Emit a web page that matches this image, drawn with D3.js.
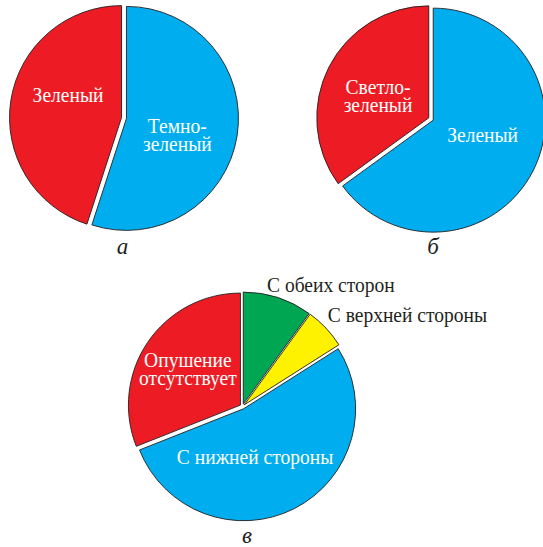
<!DOCTYPE html>
<html>
<head>
<meta charset="utf-8">
<script src="https://cdn.jsdelivr.net/npm/d3@7"></script>
<style>
  body { margin: 0; background: #fff; }
  svg { display: block; }
</style>
</head>
<body>
<svg id="fig" width="543" height="547"></svg>
<script>
// ---- data -------------------------------------------------------------
// а: окраска листа
const categoriesA = ["Темно-зеленый", "Зеленый"];
const valuesA = [55, 45];
const labelLinesA = [["Темно-", "зеленый"], ["Зеленый"]];

// б: окраска листа
const categoriesB = ["Зеленый", "Светло-зеленый"];
const valuesB = [65, 35];
const labelLinesB = [["Зеленый"], ["Светло-", "зеленый"]];

// в: опушение листа
const categoriesC = ["С обеих сторон", "С верхней стороны", "С нижней стороны", "Опушение отсутствует"];
const valuesC = [10, 6, 53, 31];
const labelLinesC = [["С обеих сторон"], ["С верхней стороны"], ["С нижней стороны"], ["Опушение", "отсутствует"]];

const panelLetters = ["а", "б", "в"];

// ---- styling ----------------------------------------------------------
const RED = "#ED1C24", BLUE = "#00AEEF", GREEN = "#00A651", YELLOW = "#FFF200";
const FONT = "'Liberation Serif', 'Times New Roman', serif";
const RADIUS = 112;
const EXPLODE = 2.5;
const LINE_H = 18;
const FONT_SIZE = 21;
const X_SCALE = 0.93; // slightly condensed face

// panel layout: centre, slice colours, label placement (angle in degrees clockwise from top, distance from centre)
const panels = [
  {
    cx: 124, cy: 118, cats: categoriesA, values: valuesA, lines: labelLinesA,
    colors: [BLUE, RED],
    labelPos: [{a: 107.8, r: 56, anchor: "middle", fill: "#fff"},
               {a: 292.3, r: 60.5, anchor: "middle", fill: "#fff"}],
    letter: panelLetters[0], letterDx: -1.5, letterY: 254
  },
  {
    cx: 431, cy: 119, cats: categoriesB, values: valuesB, lines: labelLinesB,
    colors: [BLUE, RED],
    labelPos: [{a: 107, r: 54, anchor: "middle", fill: "#fff"},
               {a: 294, r: 58, anchor: "middle", fill: "#fff"}],
    letter: panelLetters[1], letterDx: 2, letterY: 254
  },
  {
    cx: 242.5, cy: 406.5, cats: categoriesC, values: valuesC, lines: labelLinesC,
    colors: [GREEN, YELLOW, BLUE, RED],
    labelPos: [{a: 11.4, r: 124, anchor: "start", fill: "#231F20"},
               {a: 43, r: 125, anchor: "start", fill: "#231F20"},
               {a: 166, r: 52, anchor: "middle", fill: "#fff"},
               {a: 305, r: 66.7, anchor: "middle", fill: "#fff"}],
    letter: panelLetters[2], letterDx: 4.5, letterY: 543
  }
];

const svg = d3.select("#fig");
const pie = d3.pie().sort(null).value(d => d.value);
const arc = d3.arc().innerRadius(0).outerRadius(RADIUS);
const rad = deg => deg * Math.PI / 180;

panels.forEach(p => {
  const rows = p.cats.map((c, i) => ({cat: c, value: p.values[i], lines: p.lines[i], color: p.colors[i], pos: p.labelPos[i]}));
  const g = svg.append("g").attr("transform", `translate(${p.cx},${p.cy})`);

  // slices, each pulled out a little along its bisector
  g.selectAll("path.slice")
    .data(pie(rows))
    .join("path")
    .attr("class", "slice")
    .attr("d", arc)
    .attr("fill", d => d.data.color)
    .attr("stroke", "#231F20")
    .attr("stroke-width", 0.9)
    .attr("stroke-linejoin", "miter")
    .attr("transform", d => {
      const mid = (d.startAngle + d.endAngle) / 2;
      return `translate(${Math.sin(mid) * EXPLODE},${-Math.cos(mid) * EXPLODE})`;
    });

  // category labels
  const labels = g.selectAll("text.lbl")
    .data(rows)
    .join("text")
    .attr("class", "lbl")
    .attr("font-family", FONT)
    .attr("font-size", FONT_SIZE)
    .attr("fill", d => d.pos.fill)
    .attr("text-anchor", d => d.pos.anchor)
    .attr("transform", d =>
      `translate(${Math.sin(rad(d.pos.a)) * d.pos.r},${-Math.cos(rad(d.pos.a)) * d.pos.r}) scale(${X_SCALE},1)`);

  labels.selectAll("tspan")
    .data(d => d.lines.map((t, i) => ({t, i, n: d.lines.length})))
    .join("tspan")
    .attr("x", 0)
    .attr("y", d => (d.i - (d.n - 1) / 2) * LINE_H)
    .attr("dy", "0.35em")
    .text(d => d.t);

  // panel letter
  svg.append("text")
    .attr("x", p.cx + p.letterDx)
    .attr("y", p.letterY)
    .attr("text-anchor", "middle")
    .attr("font-family", FONT)
    .attr("font-style", "italic")
    .attr("font-size", 23)
    .attr("fill", "#231F20")
    .text(p.letter);
});
</script>
</body>
</html>
